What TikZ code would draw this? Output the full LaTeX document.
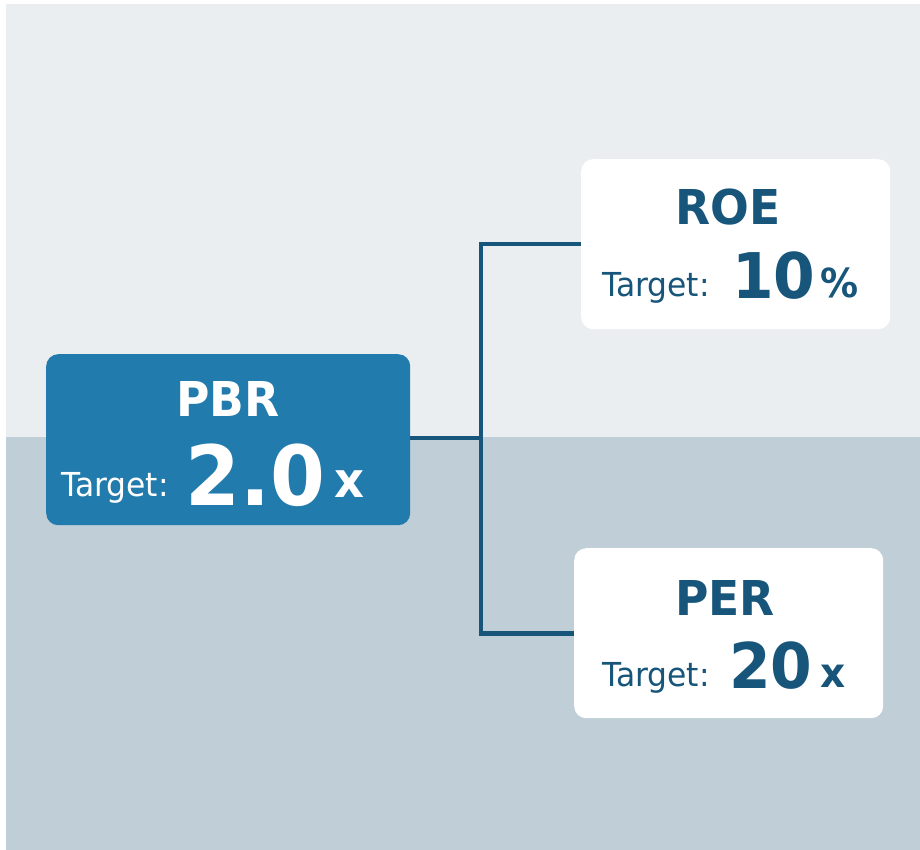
\documentclass[tikz,border=0pt]{standalone}
\usepackage{fontspec}
\setmainfont{DejaVu Sans}[FakeStretch=0.95]
\definecolor{topbg}{HTML}{EAEEF1}
\definecolor{botbg}{HTML}{BFCED7}
\definecolor{pbrblue}{HTML}{217BAD}
\definecolor{darkblue}{HTML}{17557A}
\tikzset{
  box/.style={rectangle, rounded corners=12pt, inner sep=0pt, anchor=north west},
  txt/.style={inner sep=0pt, anchor=base west},
  conn/.style={draw=darkblue, line width=4.6pt}
}
\newcommand{\fs}[1]{\fontsize{#1}{#1}\selectfont}
\begin{document}
\begin{tikzpicture}[x=1pt,y=-1pt]
\useasboundingbox (0,0) rectangle (920,850);
\fill[white] (0,0) rectangle (920,850);
\fill[topbg] (6,4) rectangle (920,437);
\fill[botbg] (6,437) rectangle (920,850);
% boxes
\node[box, fill=pbrblue, minimum width=364pt, minimum height=171pt] (pbr) at (46,354) {};
\node[box, fill=white, minimum width=309pt, minimum height=170pt] (roe) at (581,159) {};
\node[box, fill=white, minimum width=309pt, minimum height=170pt] (per) at (574,548) {};
% connectors
\coordinate (j) at (481,438);
\draw[conn] (pbr.east |- j) -- (j);
\draw[conn] (roe.west) -- (roe.west -| j) -- (per.west -| j) -- (per.west);
% PBR texts
\node[txt, text=white, font=\bfseries\fs{48}] (pbrt) at (176,416) {PBR};
\node[txt, text=white, font=\fs{33}] (pbrl) at (61,496) {Target:};
\node[txt, text=white, font=\bfseries\fs{83}] (pbrv) at (185,505) {2.0};
\node[txt, text=white, font=\bfseries\fs{49}] (pbru) at (334,497) {x};
% ROE texts
\node[txt, text=darkblue, font=\bfseries\fs{48}] (roet) at (675,225) {ROE};
\node[txt, text=darkblue, font=\fs{33}] (roel) at (602,296) {Target:};
\node[txt, text=darkblue, font=\bfseries\fs{63}] (roev) at (732,298) {10};
\node[txt, text=darkblue, font=\bfseries\fs{40}] (roeu) at (820,297) {\%};
% PER texts
\node[txt, text=darkblue, font=\bfseries\fs{48}] (pert) at (675,615) {PER};
\node[txt, text=darkblue, font=\fs{33}] (perl) at (602,686) {Target:};
\node[txt, text=darkblue, font=\bfseries\fs{63}] (perv) at (729,688) {20};
\node[txt, text=darkblue, font=\bfseries\fs{41}] (peru) at (820,687) {x};
\end{tikzpicture}
\end{document}
